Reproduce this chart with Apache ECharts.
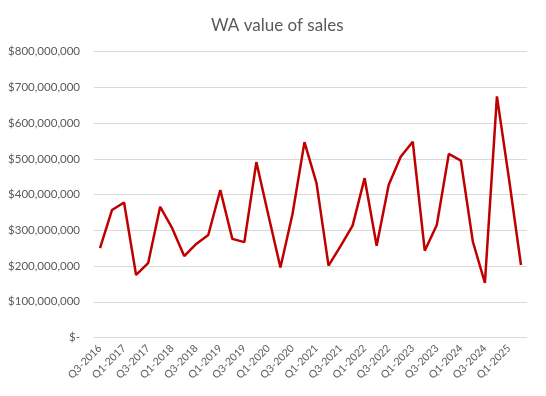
<!DOCTYPE html>
<html><head><meta charset="utf-8">
<script src="https://cdn.jsdelivr.net/npm/echarts@6/dist/echarts.min.js"></script>
<style>html,body{margin:0;padding:0;background:#fff}#c{width:546px;height:396px}</style>
</head><body><div id="c"></div>
<script>
const categories = ["Q3-2016","Q4-2016","Q1-2017","Q2-2017","Q3-2017","Q4-2017","Q1-2018","Q2-2018","Q3-2018","Q4-2018","Q1-2019","Q2-2019","Q3-2019","Q4-2019","Q1-2020","Q2-2020","Q3-2020","Q4-2020","Q1-2021","Q2-2021","Q3-2021","Q4-2021","Q1-2022","Q2-2022","Q3-2022","Q4-2022","Q1-2023","Q2-2023","Q3-2023","Q4-2023","Q1-2024","Q2-2024","Q3-2024","Q4-2024","Q1-2025","Q2-2025"];
const salesValues = [250e6,357e6,378e6,175e6,208e6,366e6,306e6,228e6,262e6,287e6,413e6,276e6,267e6,491e6,342e6,196e6,345e6,547e6,432e6,201e6,256e6,313e6,446e6,257e6,427e6,506e6,548e6,243e6,315e6,514e6,495e6,268e6,153e6,675e6,445e6,203e6];
const yTicks = {min:0, max:800e6, interval:100e6};

function fmt(v){ if(v===0) return '$-'; return '$' + v.toLocaleString('en-US'); }

const chart = echarts.init(document.getElementById('c'));
chart.setOption({
  animation:false,
  backgroundColor:'#fff',
  title:{text:'WA value of sales', left:206, top:12,
    textStyle:{fontFamily:'Lato', fontWeight:'normal', fontSize:17, color:'#595959'}},
  grid:{left:94, right:19, top:51.7, bottom:58.5, containLabel:false},
  xAxis:{type:'category', data:categories, boundaryGap:true,
    axisLine:{show:false}, axisTick:{show:false},
    axisLabel:{interval:1, rotate:45, color:'#595959', fontFamily:'Lato', fontSize:10.5, margin:9}},
  yAxis:{type:'value', min:yTicks.min, max:yTicks.max, interval:yTicks.interval,
    axisLine:{show:false}, axisTick:{show:false},
    splitLine:{lineStyle:{color:'#d9d9d9', width:1}},
    axisLabel:{formatter:fmt, color:'#595959', fontFamily:'Lato', fontSize:11.5, margin:14}},
  series:[{type:'line', data:salesValues, showSymbol:false, symbol:'none',
    lineStyle:{color:'#C00000', width:2.5}, itemStyle:{color:'#C00000'}}]
});
</script></body></html>
